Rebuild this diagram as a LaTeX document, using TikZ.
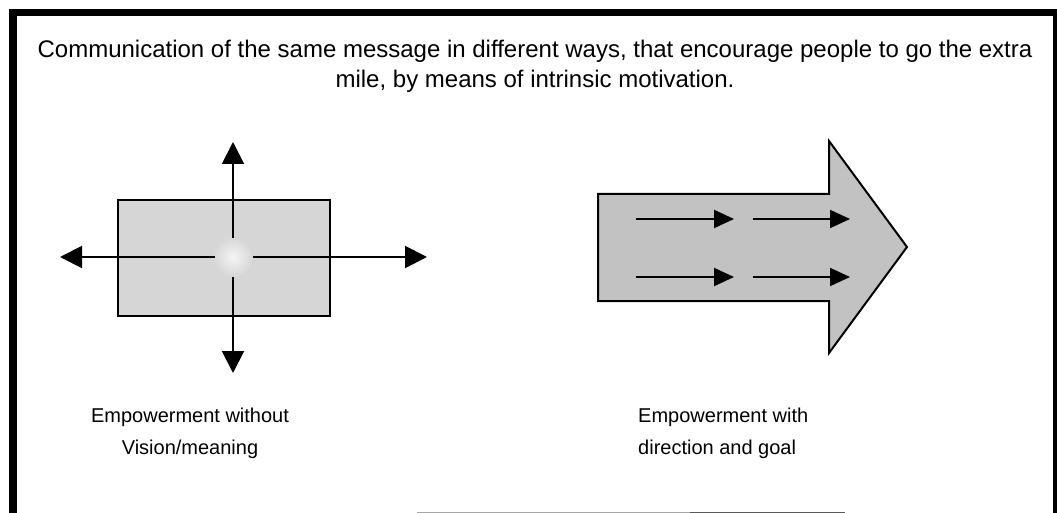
\documentclass[tikz,border=0pt]{standalone}
\usepackage{fontspec}
\setmainfont{Liberation Sans}
\usetikzlibrary{arrows.meta}
\begin{document}
\begin{tikzpicture}[x=1pt,y=-1pt,
  frame/.style={fill=black},
  txt/.style={font=\fontsize{24}{32}\selectfont, inner sep=0pt},
  lbl/.style={font=\fontsize{20}{28}\selectfont, inner sep=0pt},
  bigarrow/.style={line width=2pt, -{Triangle[length=22pt,width=22pt]}},
  smallarrow/.style={line width=2pt, -{Triangle[length=20pt,width=18pt]}},
  boxfill/.style={fill=black!16, draw=black, line width=2pt},
  shapefill/.style={fill=black!24, draw=black, line width=2pt, line join=miter}
]
\useasboundingbox (0,0) rectangle (1057,513);
\fill[white] (0,0) rectangle (1057,513);
% frame
\fill[frame] (9,9) rectangle (17,513);
\fill[frame] (9,9) rectangle (1057,16);
\fill[frame] (1053,9) rectangle (1057,513);
% faint bottom line
\draw[black!35, line width=1pt] (417,512) -- (690,512);
\draw[black!65, line width=1pt] (690,512) -- (845,512);
% title
\node[txt, anchor=base] (t1) at (535,58) {Communication of the same message in different ways, that encourage people to go the extra};
\node[txt, anchor=base] (t2) at (535,88) {mile, by means of intrinsic motivation.};
% left figure
\node[boxfill, minimum width=212pt, minimum height=116pt, inner sep=0pt] (box) at (224,258) {};
\shade[inner color=black!4, outer color=black!16] (233,257) circle (20pt);
\coordinate (c) at (233,257);
\coordinate (upS) at (233,238);
\coordinate (upE) at (233,142);
\coordinate (dnS) at (233,277);
\coordinate (dnE) at (233,373);
\coordinate (lfS) at (215,257);
\coordinate (lfE) at (60,257);
\coordinate (rtS) at (253,257);
\coordinate (rtE) at (427,257);
\draw[bigarrow] (upS) -- (upE);
\draw[bigarrow] (dnS) -- (dnE);
\draw[bigarrow] (lfS) -- (lfE);
\draw[bigarrow] (rtS) -- (rtE);
% right figure: block arrow
\draw[shapefill] (598,194) coordinate (a1) -- (829,194) -- (829,141) -- (907,247) coordinate (tip) -- (829,353) -- (829,301) -- (598,301) -- cycle;
\coordinate (r1a) at (636,219);
\coordinate (r1b) at (734,219);
\coordinate (r1c) at (753,219);
\coordinate (r1d) at (850,219);
\coordinate (r2a) at (636,277);
\coordinate (r2b) at (734,277);
\coordinate (r2c) at (753,277);
\coordinate (r2d) at (850,277);
\draw[smallarrow] (r1a) -- (r1b);
\draw[smallarrow] (r1c) -- (r1d);
\draw[smallarrow] (r2a) -- (r2b);
\draw[smallarrow] (r2c) -- (r2d);
% labels
\node[lbl, anchor=base] (l1) at (190,422) {Empowerment without};
\node[lbl, anchor=base] (l2) at (190,454) {Vision/meaning};
\node[lbl, anchor=base west] (l3) at (638,422) {Empowerment with};
\node[lbl, anchor=base west] (l4) at (638,454) {direction and goal};
\end{tikzpicture}
\end{document}
